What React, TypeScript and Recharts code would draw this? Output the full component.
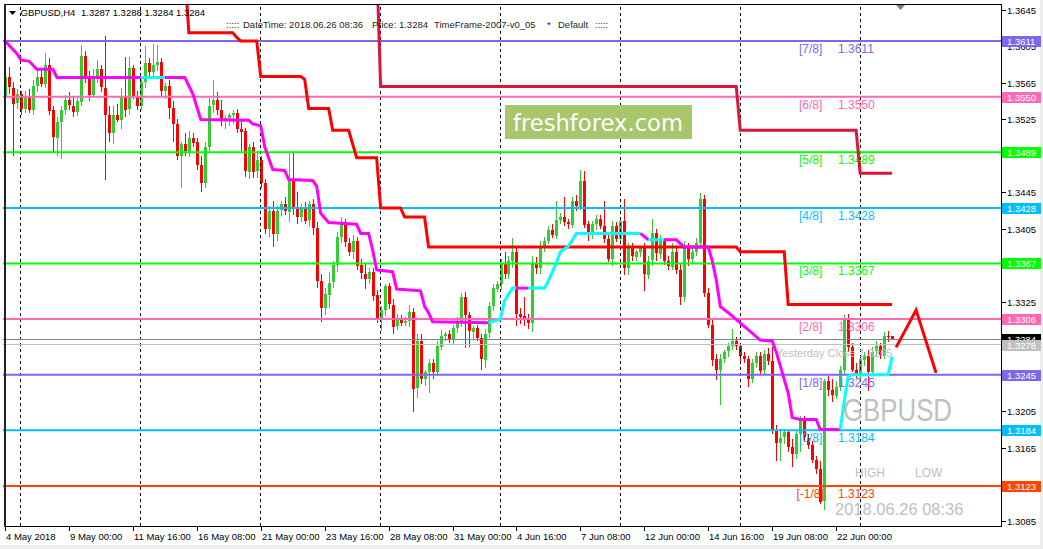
import { ComposedChart, Bar, Line, XAxis, YAxis, ReferenceLine } from 'recharts';

// GBPUSD H4 bars: [open, high, low, close]
const may04 = [
  [1.3549, 1.3578, 1.3545, 1.3571], [1.3571, 1.3582, 1.3552, 1.3560], [1.3560, 1.3566, 1.3485, 1.3543], [1.3543, 1.3558, 1.3536, 1.3553],
];
const wk0507 = [
  [1.3553, 1.3556, 1.3530, 1.3537], [1.3537, 1.3556, 1.3532, 1.3550], [1.3550, 1.3558, 1.3532, 1.3536], [1.3536, 1.3568, 1.3530, 1.3562], [1.3562, 1.3580, 1.3555, 1.3572], [1.3572, 1.3578, 1.3560, 1.3564],
  [1.3564, 1.3598, 1.3560, 1.3585], [1.3585, 1.3592, 1.3530, 1.3535], [1.3535, 1.3540, 1.3490, 1.3505], [1.3505, 1.3528, 1.3485, 1.3522], [1.3522, 1.3540, 1.3482, 1.3535], [1.3535, 1.3552, 1.3530, 1.3546],
  [1.3546, 1.3555, 1.3535, 1.3540], [1.3540, 1.3550, 1.3528, 1.3533], [1.3533, 1.3548, 1.3528, 1.3545], [1.3545, 1.3607, 1.3540, 1.3595], [1.3595, 1.3600, 1.3565, 1.3572], [1.3572, 1.3578, 1.3545, 1.3552],
  [1.3552, 1.3580, 1.3548, 1.3572], [1.3572, 1.3590, 1.3565, 1.3580], [1.3580, 1.3585, 1.3555, 1.3560], [1.3560, 1.3616, 1.3458, 1.3530], [1.3530, 1.3540, 1.3500, 1.3510], [1.3510, 1.3540, 1.3498, 1.3530],
  [1.3530, 1.3542, 1.3522, 1.3525], [1.3525, 1.3560, 1.3515, 1.3550], [1.3550, 1.3594, 1.3528, 1.3536], [1.3536, 1.3594, 1.3530, 1.3581], [1.3581, 1.3585, 1.3548, 1.3550], [1.3550, 1.3556, 1.3535, 1.3540],
];
const wk0514 = [
  [1.3540, 1.3570, 1.3535, 1.3566], [1.3566, 1.3606, 1.3560, 1.3587], [1.3587, 1.3592, 1.3570, 1.3577], [1.3577, 1.3608, 1.3570, 1.3585], [1.3585, 1.3607, 1.3578, 1.3588], [1.3588, 1.3592, 1.3550, 1.3556],
  [1.3556, 1.3565, 1.3548, 1.3562], [1.3562, 1.3568, 1.3525, 1.3538], [1.3538, 1.3545, 1.3500, 1.3520], [1.3520, 1.3525, 1.3480, 1.3485], [1.3485, 1.3500, 1.3450, 1.3498], [1.3498, 1.3510, 1.3485, 1.3490],
  [1.3490, 1.3512, 1.3484, 1.3505], [1.3505, 1.3510, 1.3495, 1.3500], [1.3500, 1.3505, 1.3470, 1.3475], [1.3475, 1.3485, 1.3445, 1.3455], [1.3455, 1.3500, 1.3450, 1.3495], [1.3495, 1.3548, 1.3490, 1.3540],
  [1.3540, 1.3568, 1.3532, 1.3546], [1.3546, 1.3555, 1.3530, 1.3535], [1.3535, 1.3546, 1.3518, 1.3524], [1.3524, 1.3530, 1.3515, 1.3527], [1.3527, 1.3532, 1.3518, 1.3530], [1.3530, 1.3535, 1.3520, 1.3532],
  [1.3532, 1.3536, 1.3510, 1.3515], [1.3515, 1.3525, 1.3490, 1.3512], [1.3512, 1.3516, 1.3462, 1.3468], [1.3468, 1.3498, 1.3460, 1.3495], [1.3495, 1.3500, 1.3460, 1.3468], [1.3468, 1.3490, 1.3460, 1.3480],
];
const wk0521 = [
  [1.3480, 1.3485, 1.3450, 1.3455], [1.3455, 1.3460, 1.3400, 1.3405], [1.3405, 1.3430, 1.3396, 1.3425], [1.3425, 1.3435, 1.3385, 1.3400], [1.3400, 1.3430, 1.3392, 1.3425], [1.3425, 1.3436, 1.3420, 1.3432],
  [1.3432, 1.3440, 1.3420, 1.3424], [1.3424, 1.3490, 1.3412, 1.3460], [1.3460, 1.3488, 1.3420, 1.3428], [1.3428, 1.3445, 1.3410, 1.3418], [1.3418, 1.3432, 1.3412, 1.3428], [1.3428, 1.3434, 1.3410, 1.3414],
  [1.3414, 1.3436, 1.3408, 1.3432], [1.3432, 1.3438, 1.3398, 1.3406], [1.3406, 1.3412, 1.3340, 1.3348], [1.3348, 1.3355, 1.3302, 1.3318], [1.3318, 1.3340, 1.3310, 1.3333], [1.3333, 1.3358, 1.3318, 1.3346],
  [1.3346, 1.3370, 1.3340, 1.3365], [1.3365, 1.3402, 1.3358, 1.3396], [1.3396, 1.3418, 1.3390, 1.3412], [1.3412, 1.3416, 1.3385, 1.3390], [1.3390, 1.3395, 1.3375, 1.3380], [1.3380, 1.3398, 1.3372, 1.3392],
  [1.3392, 1.3396, 1.3360, 1.3365], [1.3365, 1.3372, 1.3350, 1.3356], [1.3356, 1.3368, 1.3340, 1.3350], [1.3350, 1.3362, 1.3345, 1.3358], [1.3358, 1.3362, 1.3326, 1.3332], [1.3332, 1.3338, 1.3302, 1.3306],
];
const wk0528 = [
  [1.3306, 1.3320, 1.3293, 1.3316], [1.3316, 1.3345, 1.3310, 1.3342], [1.3342, 1.3346, 1.3318, 1.3322], [1.3322, 1.3328, 1.3290, 1.3298], [1.3298, 1.3312, 1.3295, 1.3305], [1.3305, 1.3310, 1.3298, 1.3302],
  [1.3302, 1.3308, 1.3298, 1.3304], [1.3304, 1.3322, 1.3298, 1.3314], [1.3314, 1.3318, 1.3204, 1.3230], [1.3230, 1.3290, 1.3220, 1.3282], [1.3282, 1.3290, 1.3235, 1.3240], [1.3240, 1.3250, 1.3232, 1.3248],
  [1.3248, 1.3262, 1.3225, 1.3258], [1.3258, 1.3262, 1.3240, 1.3248], [1.3248, 1.3282, 1.3244, 1.3276], [1.3276, 1.3294, 1.3272, 1.3288], [1.3288, 1.3292, 1.3282, 1.3290], [1.3290, 1.3294, 1.3280, 1.3284],
  [1.3284, 1.3300, 1.3278, 1.3296], [1.3296, 1.3308, 1.3290, 1.3304], [1.3304, 1.3335, 1.3298, 1.3330], [1.3330, 1.3336, 1.3275, 1.3310], [1.3310, 1.3314, 1.3276, 1.3292], [1.3292, 1.3298, 1.3284, 1.3296],
  [1.3296, 1.3300, 1.3282, 1.3285], [1.3285, 1.3290, 1.3250, 1.3262], [1.3262, 1.3295, 1.3252, 1.3290], [1.3290, 1.3325, 1.3285, 1.3320], [1.3320, 1.3345, 1.3315, 1.3340], [1.3340, 1.3348, 1.3336, 1.3345],
];
const wk0604 = [
  [1.3345, 1.3372, 1.3338, 1.3368], [1.3368, 1.3380, 1.3350, 1.3356], [1.3356, 1.3375, 1.3350, 1.3370], [1.3370, 1.3395, 1.3362, 1.3380], [1.3380, 1.3385, 1.3298, 1.3312], [1.3312, 1.3318, 1.3300, 1.3309],
  [1.3309, 1.3330, 1.3298, 1.3306], [1.3306, 1.3312, 1.3296, 1.3302], [1.3302, 1.3375, 1.3292, 1.3368], [1.3368, 1.3374, 1.3355, 1.3362], [1.3362, 1.3392, 1.3356, 1.3385], [1.3385, 1.3396, 1.3380, 1.3392],
  [1.3392, 1.3408, 1.3388, 1.3404], [1.3404, 1.3410, 1.3395, 1.3398], [1.3398, 1.3436, 1.3394, 1.3415], [1.3415, 1.3422, 1.3410, 1.3418], [1.3418, 1.3440, 1.3408, 1.3412], [1.3412, 1.3416, 1.3405, 1.3410],
  [1.3410, 1.3440, 1.3406, 1.3436], [1.3436, 1.3442, 1.3425, 1.3430], [1.3430, 1.3470, 1.3426, 1.3458], [1.3458, 1.3468, 1.3405, 1.3410], [1.3410, 1.3414, 1.3392, 1.3398], [1.3398, 1.3414, 1.3394, 1.3410],
  [1.3410, 1.3420, 1.3404, 1.3416], [1.3416, 1.3420, 1.3405, 1.3408], [1.3408, 1.3436, 1.3390, 1.3394], [1.3394, 1.3398, 1.3368, 1.3372], [1.3372, 1.3414, 1.3365, 1.3408], [1.3408, 1.3412, 1.3390, 1.3394],
];
const wk0611 = [
  [1.3394, 1.3418, 1.3390, 1.3414], [1.3414, 1.3438, 1.3355, 1.3362], [1.3362, 1.3390, 1.3355, 1.3385], [1.3385, 1.3390, 1.3370, 1.3375], [1.3375, 1.3382, 1.3370, 1.3380], [1.3380, 1.3386, 1.3374, 1.3384],
  [1.3384, 1.3390, 1.3337, 1.3355], [1.3355, 1.3375, 1.3350, 1.3370], [1.3370, 1.3416, 1.3365, 1.3400], [1.3400, 1.3405, 1.3370, 1.3378], [1.3378, 1.3398, 1.3372, 1.3392], [1.3392, 1.3395, 1.3365, 1.3370],
  [1.3370, 1.3375, 1.3360, 1.3364], [1.3364, 1.3390, 1.3360, 1.3380], [1.3380, 1.3385, 1.3355, 1.3360], [1.3360, 1.3368, 1.3322, 1.3330], [1.3330, 1.3392, 1.3325, 1.3385], [1.3385, 1.3390, 1.3365, 1.3372],
  [1.3372, 1.3385, 1.3368, 1.3380], [1.3380, 1.3395, 1.3375, 1.3390], [1.3390, 1.3444, 1.3385, 1.3438], [1.3438, 1.3442, 1.3330, 1.3335], [1.3335, 1.3340, 1.3296, 1.3300], [1.3300, 1.3305, 1.3255, 1.3262],
  [1.3262, 1.3268, 1.3240, 1.3250], [1.3250, 1.3268, 1.3212, 1.3262], [1.3262, 1.3272, 1.3258, 1.3270], [1.3270, 1.3280, 1.3265, 1.3276], [1.3276, 1.3295, 1.3272, 1.3282], [1.3282, 1.3286, 1.3272, 1.3276],
];
const wk0618 = [
  [1.3276, 1.3280, 1.3260, 1.3265], [1.3265, 1.3270, 1.3258, 1.3262], [1.3262, 1.3266, 1.3232, 1.3240], [1.3240, 1.3262, 1.3236, 1.3258], [1.3258, 1.3270, 1.3252, 1.3266], [1.3266, 1.3270, 1.3245, 1.3250],
  [1.3250, 1.3272, 1.3245, 1.3268], [1.3268, 1.3274, 1.3255, 1.3260], [1.3260, 1.3275, 1.3180, 1.3184], [1.3184, 1.3190, 1.3150, 1.3170], [1.3170, 1.3185, 1.3150, 1.3176], [1.3176, 1.3186, 1.3170, 1.3182],
  [1.3182, 1.3184, 1.3160, 1.3166], [1.3166, 1.3174, 1.3143, 1.3158], [1.3158, 1.3184, 1.3152, 1.3180], [1.3180, 1.3200, 1.3160, 1.3196], [1.3196, 1.3200, 1.3172, 1.3176], [1.3176, 1.3180, 1.3164, 1.3168],
  [1.3168, 1.3172, 1.3148, 1.3152], [1.3152, 1.3156, 1.3136, 1.3142], [1.3142, 1.3150, 1.3103, 1.3106], [1.3106, 1.3240, 1.3096, 1.3238], [1.3238, 1.3244, 1.3222, 1.3228], [1.3228, 1.3240, 1.3215, 1.3222],
  [1.3222, 1.3238, 1.3218, 1.3232], [1.3232, 1.3255, 1.3228, 1.3250], [1.3250, 1.3310, 1.3244, 1.3305], [1.3305, 1.3312, 1.3270, 1.3275], [1.3275, 1.3280, 1.3248, 1.3250], [1.3250, 1.3258, 1.3242, 1.3246],
];
const wk0625 = [
  [1.3246, 1.3266, 1.3240, 1.3262], [1.3262, 1.3270, 1.3255, 1.3266], [1.3266, 1.3272, 1.3227, 1.3248], [1.3248, 1.3275, 1.3244, 1.3270], [1.3270, 1.3282, 1.3265, 1.3276], [1.3276, 1.3280, 1.3262, 1.3266],
  [1.3266, 1.3292, 1.3262, 1.3288], [1.3288, 1.3293, 1.3281, 1.3287], [1.3287, 1.3288, 1.3284, 1.3284],
];

const xTickIdx = [0, 16, 32, 48, 64, 80, 96, 112, 128, 144, 160, 176, 192, 208];
const xTickText = ['4 May 2018', '9 May 00:00', '11 May 16:00', '16 May 08:00', '21 May 00:00', '23 May 16:00', '28 May 08:00',
  '31 May 00:00', '4 Jun 16:00', '7 Jun 08:00', '12 Jun 00:00', '14 Jun 16:00', '19 Jun 08:00', '22 Jun 00:00'];
const weekStarts = [4, 34, 64, 94, 124, 154, 184, 214];
// price scale labels still visible beside the level boxes
const yTicks = [1.3645, 1.3605, 1.3565, 1.3525, 1.3445, 1.3405, 1.3325, 1.3205, 1.3165, 1.3085];

const levelValues = [1.3611, 1.3550, 1.3489, 1.3428, 1.3367, 1.3306, 1.3245, 1.3184, 1.3123];
const levelTags = ['[7/8]', '[6/8]', '[5/8]', '[4/8]', '[3/8]', '[2/8]', '[1/8]', '[0/8]', '[-1/8]'];
const lastPrice = 1.3284;
const openLine = 1.3278;
const yesterdayClose = 1.3265;
const boxValues = [...levelValues, lastPrice, openLine];

// indicator lines, [bar index, price]
const redStepA = [[45, 1.3690], [46, 1.3620], [57, 1.3620], [58, 1.3615], [59, 1.3611], [63, 1.3611], [64, 1.3572], [74, 1.3572], [75, 1.3569],
  [76, 1.3537], [81, 1.3537], [82, 1.3513], [86, 1.3513], [88, 1.3483], [93, 1.3483], [94, 1.3428], [99, 1.3428], [100, 1.3418],
  [105, 1.3418], [106, 1.3385], [183, 1.3385], [184, 1.3380], [195, 1.3380], [196, 1.3322], [222, 1.3322]];
const redStepB = [[93, 1.3700], [94, 1.3561], [183, 1.3561], [184, 1.3513], [213, 1.3513], [214, 1.3466], [222, 1.3466]];
const zigzag = [[223, 1.3275], [228, 1.3316], [233, 1.3247]];
const trailSegments: { up: boolean; pts: number[][] }[] = [
  { up: false, pts: [[0, 1.3611], [3, 1.3597], [4, 1.3590], [6, 1.3589], [8, 1.3580], [12, 1.3580], [13, 1.3571], [34, 1.3571]] },
  { up: true, pts: [[34, 1.3571], [40, 1.3571]] },
  { up: false, pts: [[40, 1.3571], [45, 1.3571], [47, 1.3553], [49, 1.3525], [61, 1.3524], [62, 1.3520], [64, 1.3518], [65, 1.3495],
    [67, 1.3470], [70, 1.3469], [71, 1.3459], [77, 1.3458], [78, 1.3452], [79, 1.3422], [81, 1.3412], [88, 1.3410], [89, 1.3400],
    [91, 1.3400], [92, 1.3382], [93, 1.3360], [97, 1.3358], [98, 1.3339], [104, 1.3337], [105, 1.3320], [106, 1.3313], [107, 1.3303], [121, 1.3302]] },
  { up: true, pts: [[121, 1.3302], [124, 1.3306], [125, 1.3326], [127, 1.3340], [128, 1.3340]] },
  { up: false, pts: [[128, 1.3340], [131, 1.3340]] },
  { up: true, pts: [[131, 1.3340], [135, 1.3340], [136, 1.3348], [138, 1.3368], [139, 1.3380], [141, 1.3386], [143, 1.3400], [159, 1.3400]] },
  { up: false, pts: [[159, 1.3400], [161, 1.3393]] },
  { up: true, pts: [[161, 1.3393], [165, 1.3393]] },
  { up: false, pts: [[165, 1.3393], [168, 1.3393], [170, 1.3385], [176, 1.3385], [177, 1.3370], [178, 1.3349], [179, 1.3320], [181, 1.3313],
    [189, 1.3283], [192, 1.3282], [193, 1.3270], [196, 1.3225], [197, 1.3198], [199, 1.3196], [203, 1.3196], [204, 1.3185], [209, 1.3185]] },
  { up: true, pts: [[209, 1.3185], [210, 1.3215], [211, 1.3243], [212, 1.3245], [221, 1.3245], [222, 1.3265]] },
];

const bars = [...may04, ...wk0507, ...wk0514, ...wk0521, ...wk0528, ...wk0604, ...wk0611, ...wk0618, ...wk0625];
const SLOTS = 250;
const Y_MIN = 1.30791;
const Y_MAX = 1.36516;

const FONT = '"Liberation Sans", Arial, sans-serif';
const levelColors = ['#7B68EE', '#FF69B4', '#00FF00', '#00BFFF', '#00FF00', '#FF69B4', '#7B68EE', '#00BFFF', '#FF4500'];
const boxColors = [...levelColors, '#000000', '#C0C0C0'];
const BULL = '#32CD32';
const BEAR = '#FF0000';

const rows: any[] = Array.from({ length: SLOTS }, (_, i) => {
  const row: any = { i };
  const b = bars[i];
  if (b) {
    row.o = b[0]; row.h = b[1]; row.l = b[2]; row.c = b[3];
    row.range = [b[2], b[1]];
  }
  return row;
});
redStepA.forEach(([i, v]) => { rows[i].ra = v; });
redStepB.forEach(([i, v]) => { rows[i].rb = v; });
zigzag.forEach(([i, v]) => { rows[i].zz = v; });
trailSegments.forEach((s, k) => s.pts.forEach(([i, v]) => { rows[i]['t' + k] = v; }));

function Candle(props: any) {
  const { x, y, width, height, payload } = props;
  if (!payload || payload.o == null || isNaN(y)) return <g />;
  const { o, h, l, c } = payload;
  const top = Math.min(y, y + height);
  const hh = Math.abs(height);
  const k = h > l ? hh / (h - l) : 0;
  const cx = Math.round(x + width / 2);
  const yo = top + (h - o) * k;
  const yc = top + (h - c) * k;
  const bt = Math.round(Math.min(yo, yc));
  const bh = Math.max(1, Math.round(Math.abs(yo - yc)));
  const col = c >= o ? BULL : BEAR;
  return (
    <g shapeRendering="crispEdges">
      <rect x={cx} y={Math.round(top)} width={1} height={Math.max(1, Math.round(hh))} fill={col} />
      <rect x={cx - 1} y={bt} width={3} height={bh} fill={col} />
    </g>
  );
}

function XTick(p: any) {
  const n = xTickIdx.indexOf(p.payload.value);
  if (n < 0) return <g />;
  const x = Math.round(p.x);
  return (
    <g>
      <rect x={x} y={527} width={1} height={4} fill="#000" />
      <text x={x + 1} y={539.5} fontSize={9.5} fontFamily={FONT} fill="#000">{xTickText[n]}</text>
    </g>
  );
}

function YTick(p: any) {
  const y = Math.round(p.y);
  return (
    <g>
      <rect x={1002} y={y} width={4} height={1} fill="#000" />
      <text x={1007} y={y + 4} fontSize={9.5} fontFamily={FONT} fill="#000">{Number(p.payload.value).toFixed(4)}</text>
    </g>
  );
}

// coloured price boxes on the right scale, drawn by a second (1px wide) axis so they sit above the tick labels
function BoxTick(p: any) {
  const n = p.index;
  const v = boxValues[n];
  if (v == null) return <g />;
  const y = Math.round(p.y);
  return (
    <g fontFamily={FONT} shapeRendering="crispEdges">
      <rect x={1002} y={y - 5} width={39} height={11} fill={boxColors[n]} />
      <text x={1007} y={y + 4} fill="#fff" fontSize={9.5}>{v.toFixed(4)}</text>
    </g>
  );
}

function levelLabel(k: number) {
  return (props: any) => {
    const vb = props.viewBox;
    if (!vb) return <g />;
    const y = vb.y;
    const col = levelColors[k];
    const tag = levelTags[k];
    return (
      <g fontFamily={FONT}>
        <text x={tag.length > 5 ? 796.5 : 799} y={y + 12} fill={col} fontSize={12}>{tag}</text>
        <text x={838} y={y + 12} fill={col} fontSize={12}>{levelValues[k].toFixed(4)}</text>
      </g>
    );
  };
}

export default function App() {
  const last = bars[bars.length - 1];
  const grey = '#C0C0C0';
  return (
    <div style={{ position: 'absolute', left: 0, top: 0, width: 1043, height: 549, background: '#ececec', overflow: 'hidden' }}>
      <div style={{ position: 'absolute', left: 0, top: 0, width: 1040, height: 545, background: '#fff' }} />
      <div style={{ position: 'absolute', left: 0, top: 0 }}>
        <ComposedChart width={1043} height={549} data={rows} margin={{ top: 4, right: 0, bottom: 0, left: 3 }} barCategoryGap={0}>
          <XAxis dataKey="i" type="category" height={23} interval={0} tickLine={false} axisLine={false} tick={XTick} />
          <YAxis orientation="right" width={40} type="number" domain={[Y_MIN, Y_MAX]} allowDataOverflow ticks={yTicks}
            interval={0} tickLine={false} axisLine={false} tick={YTick} />
          <YAxis yAxisId="box" orientation="right" width={1} type="number" domain={[Y_MIN, Y_MAX]} allowDataOverflow ticks={boxValues}
            interval={0} tickLine={false} axisLine={false} tick={BoxTick} />
          {weekStarts.map((i) => (
            <ReferenceLine key={'w' + i} x={i} stroke="#000" strokeDasharray="3 3" shapeRendering="crispEdges" />
          ))}
          {levelValues.map((v, k) => (
            <ReferenceLine key={'l' + k} y={v} stroke={levelColors[k]} strokeWidth={2} label={levelLabel(k)} />
          ))}
          <ReferenceLine y={lastPrice} stroke="#778899" shapeRendering="crispEdges" />
          <ReferenceLine y={openLine} stroke={grey} shapeRendering="crispEdges" />
          <Bar dataKey="range" shape={Candle} isAnimationActive={false} />
          <Line dataKey="ra" type="linear" stroke="#FF0000" strokeWidth={3} dot={false} activeDot={false} connectNulls isAnimationActive={false} />
          <Line dataKey="rb" type="linear" stroke="#DC143C" strokeWidth={3} dot={false} activeDot={false} connectNulls isAnimationActive={false} />
          {trailSegments.map((s, k) => (
            <Line key={'t' + k} dataKey={'t' + k} type="linear" stroke={s.up ? '#00FFFF' : '#FF00FF'} strokeWidth={3}
              dot={false} activeDot={false} connectNulls isAnimationActive={false} />
          ))}
          <Line dataKey="zz" type="linear" stroke="#FF0000" strokeWidth={3} dot={false} activeDot={false} connectNulls isAnimationActive={false} />
        </ComposedChart>
      </div>
      <svg width={1043} height={549} style={{ position: 'absolute', left: 0, top: 0, pointerEvents: 'none' }} fontFamily={FONT}>
        <g shapeRendering="crispEdges">
          <rect x={5} y={4} width={997} height={1} fill="#000" />
          <rect x={4} y={4} width={2} height={523} fill="#222" />
          <rect x={5} y={526} width={997} height={1} fill="#000" />
          <rect x={1001} y={4} width={1} height={523} fill="#000" />
        </g>
        <polygon points="9,11 16,11 12.5,15" fill="#000" />
        <polygon points="896,5 905,5 900.5,10" fill="#708090" />
        <text x={20.5} y={16} fontSize={9.5} fill="#000">GBPUSD,H4</text>
        <text x={81} y={16} fontSize={9.5} fill="#000">{last.map((v) => v.toFixed(4)).join(' ')}</text>
        <g fontSize={9.5} fill="#1e1e1e">
          <text x={226} y={28}>:::::</text>
          <text x={243} y={28}>DateTime: 2018.06.26 08:36</text>
          <text x={372} y={28}>Price: {last[3].toFixed(4)}</text>
          <text x={434} y={28}>TimeFrame-2007-v0_05</text>
          <text x={547} y={28}>*</text>
          <text x={558} y={28}>Default</text>
          <text x={595} y={28}>:::::</text>
        </g>
        <rect x={505} y={105} width={187} height={34} fill="#A8C66C" />
        <text x={513} y={131} fontSize={23} fill="#fff" fontFamily='"DejaVu Sans", Verdana, sans-serif' textLength={170} lengthAdjust="spacingAndGlyphs">freshforex.com</text>
        <text x={776} y={357} fontSize={11} fill={grey}>Yesterday Close {yesterdayClose.toFixed(4)}</text>
        <text x={843} y={421} fontSize={31} fill={grey} textLength={109} lengthAdjust="spacingAndGlyphs">GBPUSD</text>
        <text x={855} y={477} fontSize={12} fill={grey}>HIGH</text>
        <text x={915} y={477} fontSize={12} fill={grey}>LOW</text>
        <text x={835} y={515} fontSize={16.5} fill={grey}>2018.06.26 08:36</text>
      </svg>
    </div>
  );
}
